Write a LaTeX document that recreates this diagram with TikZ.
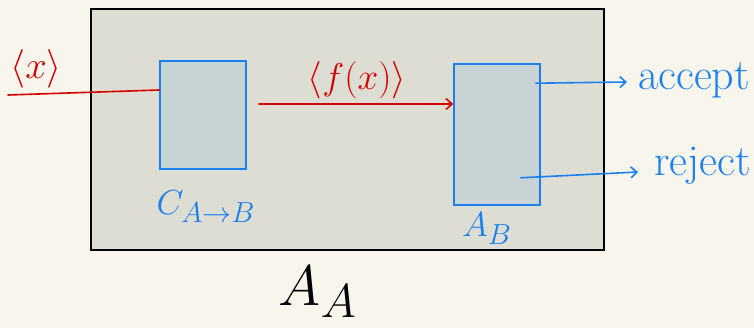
\documentclass[tikz,border=0pt]{standalone}
\usepackage{graphicx}
\usepackage{amsmath}
\usetikzlibrary{arrows.meta,calc}
\definecolor{paper}{HTML}{F8F6EC}
\definecolor{panel}{HTML}{DEDDD3}
\definecolor{boxfill}{HTML}{C8D3D6}
\definecolor{pen}{HTML}{1A80F0}
\definecolor{ink}{HTML}{D40000}
\newcommand{\bigmath}[2]{\scalebox{#1}{\Huge$#2$}}
\tikzset{
  machine/.style={draw=pen, line width=1.6pt, fill=boxfill, inner sep=0pt},
  redline/.style={draw=ink, line width=1.6pt, line cap=round},
  blueline/.style={draw=pen, line width=1.6pt, line cap=round},
  tip/.style={-{Straight Barb[length=6pt,width=11pt,line width=1.6pt]}},
  redlabel/.style={text=ink, inner sep=0pt},
  bluelabel/.style={text=pen, inner sep=0pt, font=\fontsize{44}{46}\selectfont},
}
\begin{document}
\begin{tikzpicture}[x=1pt,y=-1pt]
  \fill[paper] (0,0) rectangle (754,328);
  \useasboundingbox (0,0) rectangle (754,328);
  % enclosing machine A_A
  \node[draw=black, line width=2pt, fill=panel, minimum width=513pt, minimum height=241pt, inner sep=0pt] (outer) at (347.5,129.5) {};
  % reduction C and decider A_B
  \node[machine, minimum width=86pt, minimum height=108pt] (C) at (203,115) {};
  \node[machine, minimum width=86pt, minimum height=141pt] (AB) at (497,134.5) {};
  % input and its label
  \coordinate (in) at (8,95);
  \draw[redline] (in) -- (C.west |- 0,90);
  \node[redlabel] (x) at (36,69) {\bigmath{1.55}{\langle x\rangle}};
  % C to A_B
  \coordinate (cout) at (259,104);
  \draw[redline, tip] (cout) -- (AB.west |- 0,104);
  \node[redlabel] (fx) at (357,80) {\bigmath{1.5}{\langle f(x)\rangle}};
  % outputs
  \coordinate (acc) at (627,82);
  \coordinate (rej) at (638,172);
  \draw[blueline, tip] ($(AB.north east)+(-5,20)$) -- (acc);
  \draw[blueline, tip] ($(AB.south east)+(-20,-28)$) -- (rej);
  \node[bluelabel, anchor=base west] (accept) at (638,90) {accept};
  \node[bluelabel, anchor=base west] (reject) at (654,176) {reject};
  % names
  \node[text=pen, inner sep=0pt] (cname) at (206,207) {\bigmath{1.4}{C_{A\to B}}};
  \node[text=pen, inner sep=0pt] (abname) at (487,229) {\bigmath{1.4}{A_B}};
  \node[inner sep=0pt] (aaname) at (318,292) {\bigmath{2.3}{A_A}};
\end{tikzpicture}
\end{document}
